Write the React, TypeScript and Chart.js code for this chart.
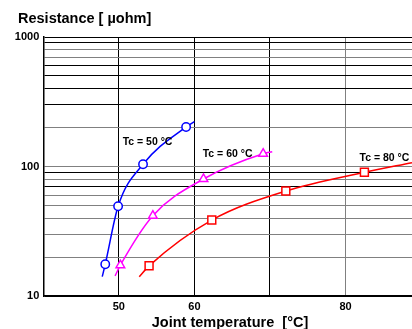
import { useEffect, useRef } from 'react';
import { Chart, registerables } from 'chart.js';

Chart.register(...registerables);

// Joint temperature [°C] and resistance [µohm] per case temperature
const tc50Temp = [47.8, 48.2, 49.9, 53.2, 58.9, 60.0];
const tc50Res = [14.1, 17.6, 49.3, 104, 202, 222];
const tc60Temp = [49.5, 50.2, 54.5, 61.2, 69.1, 70.3];
const tc60Res = [14.3, 17.3, 41.7, 80.1, 125.6, 130];
const tc80Temp = [52.7, 54.0, 62.3, 72.1, 82.5, 88.8];
const tc80Res = [14.1, 17.1, 38.6, 64.7, 90.2, 107];
// which points carry a marker (curve ends carry none)
const measured = [false, true, true, true, true, false];

const seriesNames = ['Tc = 50 °C', 'Tc = 60 °C', 'Tc = 80 °C'];
const labelTemp = [50.5, 61.1, 81.85];
const labelRes = [154, 124, 115.7];

const xTicks = [50, 60, 70, 80];
const xTickLabels = ['50', '60', '', '80'];
const yTicks = [10, 20, 30, 40, 50, 60, 70, 80, 90, 100, 200, 300, 400, 500, 600, 700, 800, 900, 1000];
const yTickLabels = ['10', '', '', '', '', '', '', '', '', '100', '', '', '', '', '', '', '', '', '1000'];
const yDarkLines = [10, 70, 90, 300, 400, 500, 600, 900, 1000];
const xDarkLines = [50, 60, 70];

const FONT = '"Liberation Sans", Arial, Helvetica, sans-serif';

const textPlugin = {
  id: 'texts',
  afterDraw(chart: any) {
    const { ctx } = chart;
    const x = chart.scales.x;
    const y = chart.scales.y;
    ctx.save();
    ctx.fillStyle = '#000';
    ctx.font = `bold 14.5px ${FONT}`;
    ctx.textAlign = 'left';
    ctx.textBaseline = 'alphabetic';
    ctx.fillText('Resistance [ µohm]', 18, 23.3);
    ctx.textAlign = 'center';
    ctx.fillText('Joint temperature  [°C]', 230, 326.5);
    ctx.font = `bold 10.5px ${FONT}`;
    ctx.textAlign = 'left';
    ctx.textBaseline = 'middle';
    seriesNames.forEach((name, i) => {
      ctx.fillText(name, x.getPixelForValue(labelTemp[i]), y.getPixelForValue(labelRes[i]));
    });
    ctx.restore();
  },
};

function makeSeries(temps: number[], res: number[], color: string, style: string, radius: number) {
  return {
    data: temps.map((t, i) => ({ x: t, y: res[i] })),
    borderColor: color,
    borderWidth: 1.5,
    pointBorderColor: color,
    pointBackgroundColor: '#fff',
    pointBorderWidth: 1.5,
    pointStyle: style,
    pointRadius: measured.map((m) => (m ? radius : 0)),
    cubicInterpolationMode: 'monotone' as const,
    fill: false,
  };
}

export default function App() {
  const ref = useRef<HTMLCanvasElement | null>(null);
  useEffect(() => {
    if (!ref.current) return;
    const chart = new Chart(ref.current, {
      type: 'line',
      data: {
        datasets: [
          makeSeries(tc50Temp, tc50Res, '#0000ff', 'circle', 4.2),
          makeSeries(tc60Temp, tc60Res, '#ff00ff', 'triangle', 5),
          makeSeries(tc80Temp, tc80Res, '#ff0000', 'rect', 5.6),
        ] as any,
      },
      options: {
        animation: false,
        responsive: false,
        layout: { padding: { top: 37, right: 0, bottom: 0, left: 0 } },
        plugins: { legend: { display: false }, tooltip: { enabled: false }, title: { display: false } },
        scales: {
          x: {
            type: 'linear',
            min: 40,
            max: 88.8,
            afterBuildTicks: (s: any) => {
              s.ticks = xTicks.map((v) => ({ value: v }));
            },
            afterFit: (s: any) => {
              s.height = 33;
            },
            ticks: {
              autoSkip: false,
              maxRotation: 0,
              padding: 4,
              color: '#000',
              font: { family: FONT, size: 11, weight: 'bold' },
              callback: (v: any) => xTickLabels[xTicks.indexOf(Number(v))] ?? '',
            },
            grid: {
              drawTicks: false,
              lineWidth: 1,
              color: (c: any) => (xDarkLines.includes(c.tick?.value) ? '#000' : '#808080'),
            },
            border: { display: true, color: '#000', width: 1.5 },
          },
          y: {
            type: 'logarithmic',
            min: 10,
            max: 1000,
            afterBuildTicks: (s: any) => {
              s.ticks = yTicks.map((v) => ({ value: v }));
            },
            afterFit: (s: any) => {
              s.width = 43.3;
            },
            ticks: {
              autoSkip: false,
              padding: 4,
              color: '#000',
              font: { family: FONT, size: 11, weight: 'bold' },
              callback: (v: any) => yTickLabels[yTicks.indexOf(Number(v))] ?? '',
            },
            grid: {
              drawTicks: false,
              lineWidth: 1,
              color: (c: any) => (yDarkLines.includes(c.tick?.value) ? '#000' : '#808080'),
            },
            border: { display: true, color: '#000', width: 1.5 },
          },
        },
      } as any,
      plugins: [textPlugin],
    });
    return () => chart.destroy();
  }, []);
  return (
    <div style={{ position: 'fixed', left: 0, top: 0, width: 412, height: 329, background: '#fff' }}>
      <canvas ref={ref} width={412} height={329} style={{ display: 'block' }} />
    </div>
  );
}
